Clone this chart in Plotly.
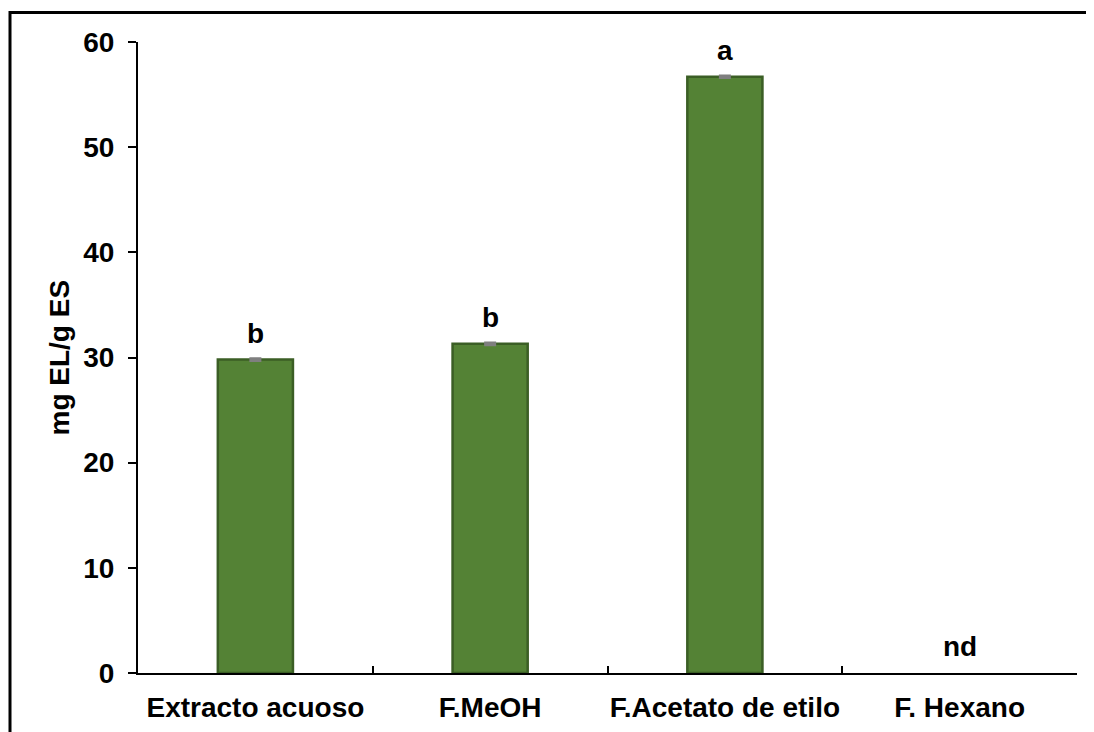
import plotly.graph_objects as go

categories = ["Extracto acuoso", "F.MeOH", "F.Acetato de etilo", "F. Hexano"]
values = [29.8, 31.3, 56.7, 0]
errors = [0.1, 0.1, 0.1, 0]
letters = ["b", "b", "a", "nd"]
y_ticks = [0, 10, 20, 30, 40, 50, 60]

OFF = 8  # page body margin
W, H = 1086, 724
ML, MR, MT, MB = 130, 17, 34, 59
PW, PH = W - ML - MR, H - MT - MB

FONT = "Liberation Sans, Arial, sans-serif"
FS = 28

def px_x(x):  # viewport x -> paper
    return (x - OFF - ML) / PW

def px_y(y):  # viewport y -> paper
    return (H - MB - (y - OFF)) / PH

# "nd" (not detected) is drawn as no bar
bar_vals = [v if v else None for v in values]
bar_errs = [e if v else None for v, e in zip(values, errors)]

fig = go.Figure()
fig.add_trace(go.Bar(
    x=categories, y=bar_vals,
    marker=dict(color="#548235", line=dict(color="#3b5e25", width=2.5)),
    error_y=dict(type="data", array=bar_errs, visible=True, color="#7f7f7f", thickness=2.5, width=6),
    width=0.32,
))

for c, v, l in zip(categories, values, letters):
    fig.add_annotation(x=c, y=v, text=f"<b>{l}</b>", showarrow=False,
                       yanchor="bottom", yshift=9,
                       font=dict(family=FONT, size=FS, color="black"))

fig.add_annotation(xref="paper", yref="paper", x=px_x(59), y=0.5,
                   text="<b>mg EL/g ES</b>", textangle=-90, showarrow=False,
                   xanchor="center", yanchor="middle",
                   font=dict(family=FONT, size=FS, color="black"))

# outer frame
fig.add_shape(type="rect", xref="paper", yref="paper",
              x0=px_x(10), x1=px_x(1200),
              y0=px_y(900), y1=px_y(12.5),
              line=dict(color="black", width=3), fillcolor="rgba(0,0,0,0)", layer="above")

fig.update_layout(
    width=W, height=H,
    margin=dict(l=ML, r=MR, t=MT, b=MB, autoexpand=False),
    paper_bgcolor="white", plot_bgcolor="white",
    showlegend=False,
    font=dict(family=FONT, size=FS, color="black"),
)
fig.update_xaxes(
    type="category", showline=True, linecolor="black", linewidth=2,
    ticks="inside", ticklen=7, tickwidth=2, tickcolor="black", tickson="boundaries",
    tickfont=dict(family=FONT, size=FS, color="black"), tickangle=0,
    ticktext=[f"<b>{c}</b>" for c in categories], tickvals=categories,
    ticklabelstandoff=8,
    showgrid=False, zeroline=False, automargin=False,
)
fig.update_yaxes(
    range=[0, 60], tickvals=y_ticks, ticktext=[f"<b>{t}</b>" for t in y_ticks],
    showline=True, linecolor="black", linewidth=2,
    ticks="outside", ticklen=8, tickwidth=2, tickcolor="black",
    tickfont=dict(family=FONT, size=FS, color="black"), ticklabelstandoff=8,
    showgrid=False, zeroline=False, automargin=False,
)

fig.write_html("out.html")
